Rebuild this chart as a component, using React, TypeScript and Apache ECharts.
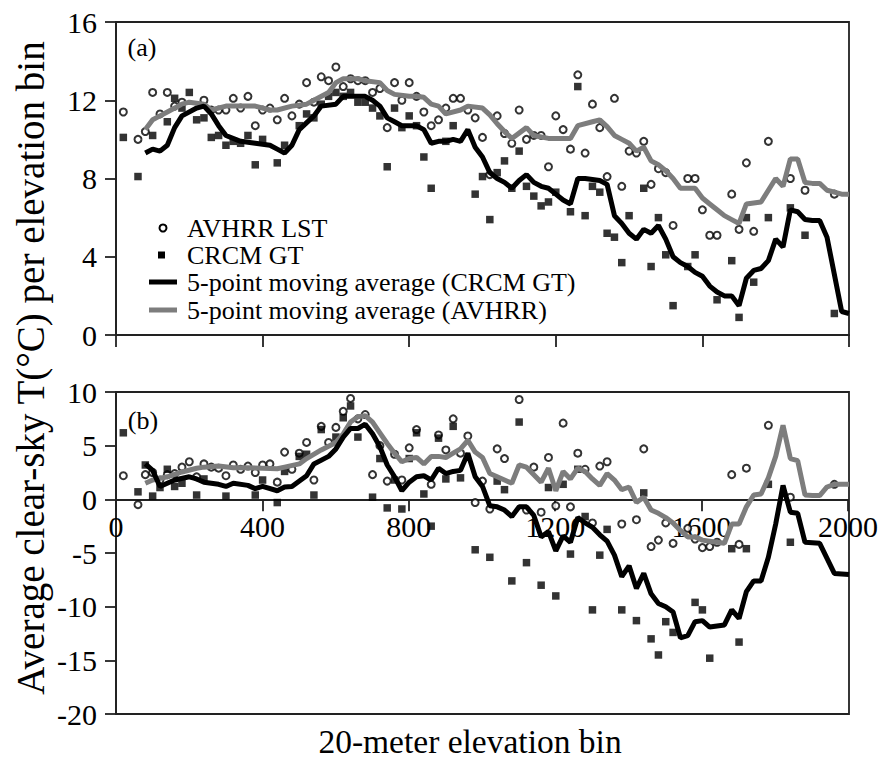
import React, { useEffect, useRef } from 'react';
import * as echarts from 'echarts';

// ---------- tick values ----------
const xTicks = [0, 400, 800, 1200, 1600, 2000];
const aYTicks = [0, 4, 8, 12, 16];
const bYTicks = [-20, -15, -10, -5, 0, 5, 10];

// ---------- series names ----------
const names = [
  'AVHRR LST',
  'CRCM GT',
  '5-point moving average (CRCM GT)',
  '5-point moving average (AVHRR)',
];

// ---------- panel (a) ----------
const aAvhrr: [number, number][] = [
  [20, 11.4], [60, 10.0], [80, 10.4], [100, 12.4], [120, 11.3], [140, 12.4], [160, 11.7], [180, 11.9],
  [240, 12.0], [260, 11.5], [280, 11.5], [300, 11.5], [320, 12.1], [340, 11.6], [360, 12.2], [380, 10.7],
  [400, 11.5], [420, 11.6], [440, 11.0], [460, 12.1], [480, 11.2], [500, 11.8], [520, 12.9], [540, 11.9],
  [560, 13.2], [580, 13.0], [600, 13.7], [620, 12.7], [640, 13.1], [660, 13.0], [680, 13.0], [700, 12.4],
  [720, 12.6], [740, 10.6], [760, 12.9], [780, 12.0], [800, 12.9], [820, 12.2], [840, 11.4], [860, 10.7],
  [880, 11.0], [900, 11.6], [920, 12.1], [940, 12.1], [960, 11.5], [980, 11.1], [1000, 10.1], [1020, 8.2],
  [1040, 11.2], [1060, 10.3], [1080, 9.8], [1100, 11.5], [1120, 10.0], [1140, 10.2], [1160, 10.2], [1180, 8.6],
  [1200, 11.2], [1220, 10.5], [1240, 9.5], [1260, 13.3], [1280, 9.3], [1300, 11.8], [1320, 10.6], [1340, 8.1],
  [1360, 12.1], [1380, 7.6], [1400, 9.4], [1420, 9.3], [1440, 9.9], [1460, 7.7], [1480, 8.5], [1500, 8.3],
  [1520, 5.6], [1560, 8.0], [1580, 8.0], [1600, 6.4], [1620, 5.1], [1640, 5.1], [1680, 7.2], [1700, 5.4],
  [1720, 8.8], [1740, 5.3], [1780, 9.9], [1840, 8.0], [1880, 7.4], [1960, 7.2],
];
const aCrcm: [number, number][] = [
  [20, 10.1], [60, 8.1], [100, 10.2], [140, 10.9], [160, 12.1], [180, 11.6], [200, 12.4], [220, 11.0],
  [240, 11.1], [260, 10.1], [280, 10.2], [300, 9.7], [320, 9.9], [340, 9.8], [360, 10.2], [380, 8.7],
  [400, 10.0], [440, 8.8], [460, 9.7], [500, 10.7], [520, 11.3], [540, 11.1], [560, 11.8], [580, 12.2],
  [600, 12.4], [620, 12.2], [640, 12.4], [660, 11.9], [680, 11.9], [700, 11.6], [720, 11.2], [740, 8.6],
  [760, 11.6], [780, 10.6], [800, 11.2], [820, 10.7], [840, 9.1], [860, 7.5], [900, 9.9], [920, 10.7],
  [980, 7.2], [1000, 8.1], [1020, 5.9], [1040, 8.3], [1060, 8.9], [1080, 7.5], [1100, 9.4], [1120, 7.6],
  [1140, 7.1], [1160, 6.6], [1180, 6.8], [1200, 7.3], [1240, 6.3], [1260, 12.7], [1280, 6.1], [1300, 7.6],
  [1320, 7.3], [1340, 5.2], [1360, 5.0], [1380, 3.7], [1400, 6.1], [1440, 7.5], [1460, 3.5], [1480, 6.0],
  [1500, 4.1], [1520, 1.5], [1560, 3.5], [1580, 4.1], [1640, 1.8], [1680, 3.8], [1700, 0.9], [1720, 6.0],
  [1740, 2.7], [1780, 6.0], [1840, 6.5], [1880, 5.1], [1960, 1.1],
];
const aCrcmMA: [number, number][] = [
  [80, 9.3], [100, 9.5], [120, 9.4], [140, 9.7], [160, 10.6], [180, 11.2], [220, 11.6], [240, 11.7],
  [260, 11.3], [280, 10.7], [300, 10.2], [340, 9.9], [380, 9.8], [420, 9.7], [440, 9.5], [460, 9.3],
  [480, 9.7], [500, 10.5], [540, 11.2], [560, 11.7], [600, 11.8], [620, 12.2], [640, 12.2], [680, 12.2],
  [700, 12.0], [720, 11.7], [740, 11.1], [760, 10.9], [780, 10.7], [800, 10.7], [820, 10.7], [840, 10.5],
  [860, 9.8], [880, 9.9], [900, 9.9], [920, 10.0], [940, 9.9], [960, 10.5], [980, 9.6], [1000, 9.1],
  [1020, 8.3], [1040, 8.0], [1060, 7.8], [1080, 7.5], [1100, 7.9], [1120, 8.2], [1140, 7.8], [1160, 7.6],
  [1180, 7.5], [1200, 7.2], [1220, 6.9], [1240, 6.7], [1260, 8.0], [1280, 8.0], [1300, 7.95], [1320, 7.9],
  [1340, 7.7], [1360, 6.1], [1380, 5.7], [1400, 5.2], [1420, 4.9], [1440, 5.4], [1460, 5.2], [1480, 5.6],
  [1500, 4.9], [1520, 4.0], [1540, 3.7], [1560, 3.5], [1580, 3.2], [1600, 3.0], [1620, 2.5], [1640, 2.2],
  [1660, 2.0], [1680, 2.0], [1700, 1.5], [1720, 2.9], [1740, 3.3], [1760, 3.4], [1780, 3.8], [1800, 4.9],
  [1820, 4.5], [1840, 6.4], [1860, 6.3], [1880, 5.9], [1900, 5.85], [1920, 5.85], [1940, 5.0], [1980, 1.2],
  [2000, 1.1],
];
const aAvhrrMA: [number, number][] = [
  [80, 10.5], [100, 11.0], [120, 11.2], [140, 11.4], [180, 11.8], [200, 11.9], [240, 11.8], [260, 11.5],
  [300, 11.7], [320, 11.7], [340, 11.7], [380, 11.7], [420, 11.5], [440, 11.5], [480, 11.7], [520, 11.8],
  [540, 12.0], [580, 12.4], [600, 12.9], [620, 13.1], [660, 13.1], [680, 13.0], [720, 12.9], [740, 12.5],
  [760, 12.3], [800, 12.2], [820, 12.2], [840, 12.15], [860, 11.8], [880, 11.7], [900, 11.3], [940, 11.5],
  [960, 11.7], [1000, 11.6], [1020, 11.25], [1040, 10.8], [1060, 10.4], [1080, 10.05], [1120, 10.6],
  [1140, 10.2], [1180, 10.05], [1220, 10.05], [1240, 10.05], [1260, 10.7], [1300, 10.9], [1320, 11.0],
  [1340, 10.65], [1360, 10.2], [1380, 10.0], [1400, 9.8], [1420, 9.4], [1440, 9.6], [1460, 8.9], [1480, 8.7],
  [1500, 8.4], [1520, 8.0], [1540, 7.5], [1560, 7.5], [1580, 7.5], [1600, 7.0], [1620, 6.7], [1640, 6.4],
  [1660, 6.1], [1680, 5.9], [1700, 5.7], [1720, 6.7], [1740, 6.75], [1760, 6.8], [1800, 8.0], [1820, 7.6],
  [1840, 9.0], [1860, 9.0], [1880, 7.8], [1900, 7.75], [1920, 7.75], [1940, 7.4], [1960, 7.3], [1980, 7.2],
  [2000, 7.2],
];

// ---------- panel (b) ----------
const bAvhrr: [number, number][] = [
  [20, 2.2], [60, -0.5], [80, 2.3], [100, 2.5], [120, 1.8], [140, 2.3], [160, 2.4], [180, 3.0], [200, 3.5],
  [220, 2.1], [240, 3.3], [260, 3.0], [280, 2.9], [300, 2.2], [320, 3.2], [340, 2.8], [360, 3.1], [380, 2.5],
  [400, 3.2], [420, 3.3], [440, 1.6], [460, 4.4], [480, 2.8], [500, 4.3], [520, 5.3], [540, 1.8], [560, 6.8],
  [580, 5.3], [600, 6.7], [620, 8.2], [640, 9.4], [660, 7.5], [680, 7.9], [700, 2.3], [720, 5.0], [740, 1.7],
  [760, 4.2], [780, 1.8], [800, 4.8], [820, 6.5], [860, 1.4], [880, 6.0], [900, 4.6], [920, 7.5], [940, 4.3],
  [960, 5.9], [980, -0.3], [1000, 1.7], [1020, -0.9], [1040, 4.7], [1060, 3.8], [1100, 9.3], [1120, -1.0],
  [1140, 3.0], [1160, -1.2], [1180, 3.9], [1200, -0.6], [1220, 7.1], [1240, -0.7], [1260, 4.3], [1280, 2.8],
  [1300, -2.2], [1320, 3.1], [1340, 3.5], [1380, -2.3], [1420, -1.9], [1440, 4.7], [1460, -4.4], [1480, -3.8],
  [1500, -2.2], [1520, -4.1], [1560, -2.7], [1580, -3.7], [1600, -4.5], [1620, -4.4], [1640, -4.0],
  [1680, 2.3], [1700, -4.2], [1720, 2.9], [1780, 6.9], [1840, 0.2], [1960, 1.4],
];
const bCrcm: [number, number][] = [
  [20, 6.2], [60, 0.7], [80, 3.2], [100, 0.3], [120, 1.1], [140, 2.8], [160, 1.2], [180, 1.5], [220, 0.4],
  [240, 1.9], [300, 0.3], [380, 0.4], [400, 1.8], [440, -0.3], [460, 2.6], [500, 4.0], [520, 4.2], [540, 0.4],
  [560, 6.5], [600, 5.8], [620, 7.6], [640, 8.7], [660, 5.8], [700, 0.2], [720, 3.8], [740, -0.8], [760, 1.8],
  [780, -0.9], [800, 3.8], [820, 6.2], [840, 0.5], [860, -2.5], [880, 5.7], [900, 1.9], [920, 6.8], [940, 2.0],
  [980, -4.7], [1020, -5.4], [1040, 1.7], [1060, 0.9], [1080, -7.6], [1100, 7.2], [1120, -5.9], [1160, -8.0],
  [1180, 1.1], [1200, -9.0], [1220, 1.4], [1240, -5.1], [1260, 2.8], [1280, -1.6], [1300, -10.3], [1320, -5.2],
  [1340, -2.8], [1380, -10.3], [1420, -11.3], [1440, 0.6], [1460, -13.0], [1480, -14.5], [1500, -11.4],
  [1520, -12.4], [1580, -9.6], [1600, -10.3], [1620, -14.8], [1680, -4.6], [1700, -13.3], [1720, -4.6],
  [1780, 1.4], [1840, -4.0],
];
const bCrcmMA: [number, number][] = [
  [80, 3.3], [100, 2.7], [120, 1.2], [140, 1.5], [160, 1.8], [200, 2.1], [220, 1.9], [240, 1.6], [280, 1.4],
  [300, 1.2], [320, 1.5], [360, 1.3], [380, 1.0], [400, 1.2], [440, 0.8], [460, 1.15], [480, 1.2], [520, 2.2],
  [540, 3.3], [580, 4.0], [600, 4.7], [620, 5.8], [640, 6.6], [660, 6.6], [680, 7.0], [700, 6.1], [720, 4.9],
  [740, 3.2], [760, 2.1], [780, 0.8], [800, 1.6], [820, 2.1], [840, 2.2], [860, 1.8], [880, 2.9], [900, 2.4],
  [920, 2.6], [940, 2.7], [960, 4.3], [980, 2.1], [1000, 1.2], [1020, -0.6], [1040, -0.7], [1060, -1.0],
  [1080, -1.6], [1100, -0.7], [1120, -0.7], [1140, -1.5], [1160, -3.5], [1180, -3.0], [1200, -4.8],
  [1220, -3.4], [1240, -4.0], [1260, -1.7], [1280, -2.2], [1300, -2.6], [1320, -3.3], [1340, -3.9],
  [1360, -5.2], [1380, -7.2], [1400, -6.2], [1420, -8.3], [1440, -6.9], [1460, -8.8], [1480, -9.7],
  [1500, -10.0], [1520, -10.5], [1540, -12.9], [1560, -12.7], [1580, -11.4], [1600, -11.3], [1620, -11.9],
  [1640, -11.8], [1660, -11.7], [1680, -10.3], [1700, -11.1], [1720, -8.6], [1740, -7.6], [1760, -7.6],
  [1780, -5.4], [1800, -2.3], [1820, 1.3], [1840, -1.2], [1860, -1.3], [1880, -4.0], [1920, -4.1],
  [1960, -6.9], [2000, -7.0],
];
const bAvhrrMA: [number, number][] = [
  [80, 1.5], [100, 1.8], [140, 2.1], [180, 2.55], [220, 2.9], [240, 3.0], [280, 3.1], [320, 2.95], [360, 2.95],
  [400, 2.9], [440, 2.85], [460, 3.0], [500, 3.3], [520, 3.8], [560, 4.6], [600, 5.3], [620, 6.1], [640, 7.2],
  [660, 7.7], [680, 7.8], [700, 7.2], [720, 6.2], [740, 5.2], [760, 4.3], [780, 3.5], [800, 3.8], [820, 3.9],
  [840, 3.3], [860, 4.0], [880, 4.0], [900, 3.9], [920, 4.3], [940, 4.7], [960, 5.5], [980, 4.4], [1000, 3.9],
  [1020, 2.4], [1040, 2.1], [1060, 1.8], [1080, 1.5], [1100, 3.2], [1120, 3.0], [1140, 2.3], [1160, 1.6],
  [1180, 2.9], [1200, 0.8], [1220, 2.6], [1240, 1.9], [1260, 2.9], [1280, 2.6], [1300, 1.9], [1320, 1.3],
  [1340, 2.4], [1360, 1.8], [1380, 0.9], [1400, 1.15], [1420, -0.3], [1440, 0.2], [1460, -1.0], [1480, -1.3],
  [1500, -1.7], [1520, -2.2], [1540, -2.9], [1560, -3.5], [1580, -3.5], [1600, -3.8], [1620, -3.9],
  [1640, -4.0], [1660, -4.1], [1680, -2.3], [1700, -2.3], [1720, -0.7], [1740, 0.4], [1760, 0.5], [1780, 2.0],
  [1800, 4.0], [1820, 6.9], [1840, 3.8], [1860, 3.6], [1880, 0.4], [1900, 0.35], [1920, 0.35], [1940, 1.15],
  [1960, 1.4], [2000, 1.4],
];

const FONT = '"Liberation Serif", "Times New Roman", Times, serif';
const AXIS_COLOR = '#222';
const GRAY = '#7d7d7d';

// panel geometry
const LEFT = 116;
const WIDTH = 733;
const A_TOP = 22;
const A_H = 313;
const B_TOP = 392;
const B_H = 322;

function buildOption(): any {
  const lineStyle = { color: AXIS_COLOR, width: 1.8 };
  const tickLabel = {
    color: '#000',
    fontFamily: FONT,
    fontSize: 30,
    formatter: (v: number) => String(v),
  };
  const bZeroH = (B_H * bYTicks[bYTicks.length - 1]) / (bYTicks[bYTicks.length - 1] - bYTicks[0]);

  const xAxis = (gridIndex: number, showAll: boolean, showTicks: boolean) => ({
    type: 'value',
    gridIndex,
    min: xTicks[0],
    max: xTicks[xTicks.length - 1],
    interval: xTicks[1] - xTicks[0],
    axisLine: { show: showAll || showTicks, onZero: false, lineStyle },
    axisTick: { show: showTicks, inside: false, length: 12, lineStyle },
    axisLabel: { show: showAll, margin: 12, ...tickLabel },
    splitLine: { show: false },
  });
  const yAxis = (gridIndex: number, ticks: number[], show: boolean) => ({
    type: 'value',
    gridIndex,
    show,
    min: ticks[0],
    max: ticks[ticks.length - 1],
    interval: ticks[1] - ticks[0],
    axisLine: { show: true, onZero: false, lineStyle },
    axisTick: { show: true, inside: false, length: 11, lineStyle },
    axisLabel: { margin: 19, ...tickLabel },
    splitLine: { show: false },
  });

  const scatterCircle = (data: [number, number][], idx: number) => ({
    name: names[0],
    type: 'scatter',
    xAxisIndex: idx,
    yAxisIndex: idx,
    data,
    symbol: 'circle',
    symbolSize: 7,
    itemStyle: { color: '#fff', borderColor: '#000', borderWidth: 2 },
    z: 2,
  });
  const scatterSquare = (data: [number, number][], idx: number) => ({
    name: names[1],
    type: 'scatter',
    xAxisIndex: idx,
    yAxisIndex: idx,
    data,
    symbol: 'rect',
    symbolSize: 7.5,
    itemStyle: { color: '#000' },
    z: 2,
  });
  const maLine = (data: [number, number][], idx: number, name: string, color: string, z: number) => ({
    name,
    type: 'line',
    xAxisIndex: idx,
    yAxisIndex: idx,
    data,
    showSymbol: false,
    symbol: 'none',
    lineStyle: { color, width: 5 },
    itemStyle: { color },
    z,
  });

  const txt = (text: string, x: number, y: number, size: number, align = 'left', rotation = 0) => ({
    type: 'text',
    x,
    y,
    rotation,
    z: 10,
    style: {
      text,
      fill: '#000',
      font: `${size}px ${FONT}`,
      textAlign: align,
      textVerticalAlign: 'middle',
    },
  });

  const legendX = 187;
  const legendYs = [228, 255, 282, 310];

  return {
    animation: false,
    backgroundColor: '#fff',
    grid: [
      { left: LEFT, top: A_TOP, width: WIDTH, height: A_H, show: true, borderColor: AXIS_COLOR, borderWidth: 1.8 },
      { left: LEFT, top: B_TOP, width: WIDTH, height: B_H, show: true, borderColor: AXIS_COLOR, borderWidth: 1.8 },
      // helper grid: its bottom edge is panel (b)'s zero line, carrying the x ticks and labels
      { left: LEFT, top: B_TOP, width: WIDTH, height: bZeroH, show: false },
    ],
    xAxis: [xAxis(0, false, true), xAxis(1, false, false), xAxis(2, true, true)],
    yAxis: [yAxis(0, aYTicks, true), yAxis(1, bYTicks, true), { ...yAxis(2, [0, 1], false) }],
    series: [
      scatterCircle(aAvhrr, 0),
      scatterSquare(aCrcm, 0),
      maLine(aAvhrrMA, 0, names[3], GRAY, 3),
      maLine(aCrcmMA, 0, names[2], '#000', 4),
      scatterCircle(bAvhrr, 1),
      scatterSquare(bCrcm, 1),
      maLine(bAvhrrMA, 1, names[3], GRAY, 3),
      maLine(bCrcmMA, 1, names[2], '#000', 4),
    ],
    graphic: [
      // legend (inside panel a)
      {
        type: 'circle',
        z: 10,
        shape: { cx: 163, cy: legendYs[0], r: 3.5 },
        style: { fill: '#fff', stroke: '#000', lineWidth: 2 },
      },
      {
        type: 'rect',
        z: 10,
        shape: { x: 158, y: legendYs[1] - 3.5, width: 7, height: 7 },
        style: { fill: '#000' },
      },
      {
        type: 'line',
        z: 10,
        shape: { x1: 149, y1: legendYs[2], x2: 177, y2: legendYs[2] },
        style: { stroke: '#000', lineWidth: 5 },
      },
      {
        type: 'line',
        z: 10,
        shape: { x1: 149, y1: legendYs[3], x2: 177, y2: legendYs[3] },
        style: { stroke: GRAY, lineWidth: 5 },
      },
      txt(names[0], legendX, legendYs[0], 26),
      txt(names[1], legendX, legendYs[1], 26),
      txt(names[2], legendX, legendYs[2], 26),
      txt(names[3], legendX, legendYs[3], 26),
      // panel labels
      txt('(a)', 142, 47, 26, 'center'),
      txt('(b)', 143, 420, 26, 'center'),
      // axis titles
      txt('Average clear-sky T(\u00B0C) per elevation bin', 30, 368, 39, 'center', Math.PI / 2),
      txt('20-meter elevation bin', 470, 741, 33.5, 'center'),
    ],
  };
}

export default function App() {
  const ref = useRef<HTMLDivElement>(null);
  useEffect(() => {
    if (!ref.current) return;
    const chart = echarts.init(ref.current, undefined, { renderer: 'svg' });
    chart.setOption(buildOption());
    return () => chart.dispose();
  }, []);
  return (
    <div
      ref={ref}
      style={{ position: 'absolute', left: 0, top: 0, width: 881, height: 760, background: '#fff' }}
    />
  );
}
